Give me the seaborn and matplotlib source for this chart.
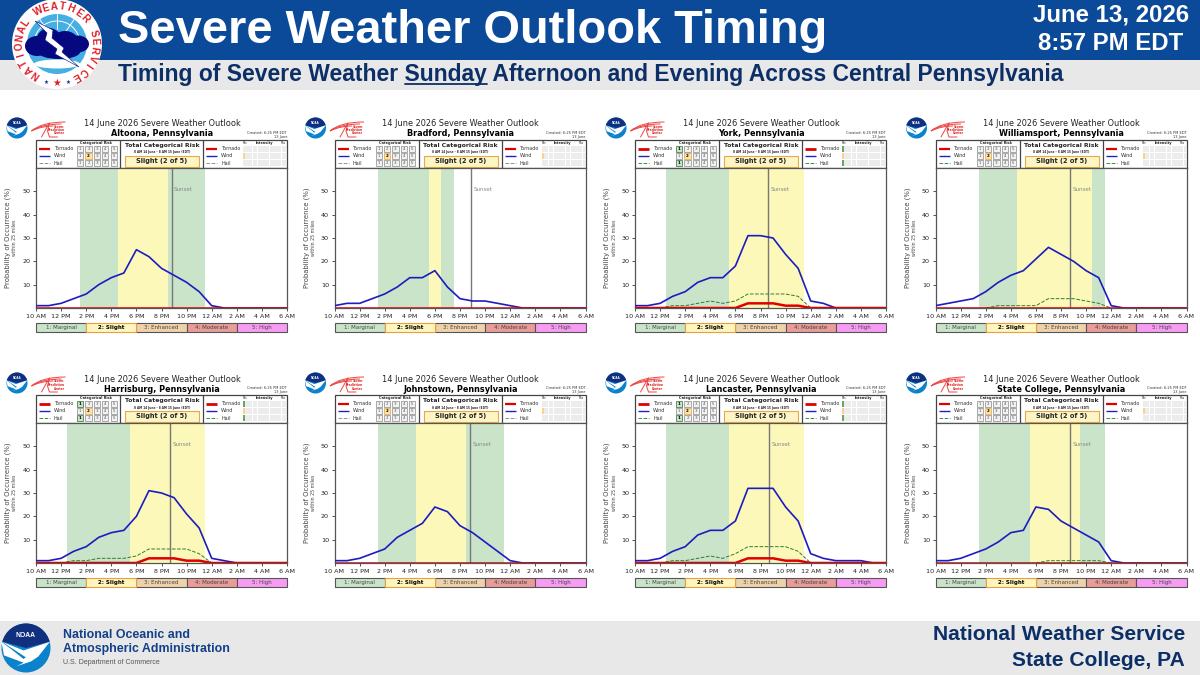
import matplotlib
matplotlib.use("Agg")
import matplotlib.pyplot as plt
import numpy as np
import pandas as pd
import seaborn as sns
from matplotlib.patches import Arc, Circle, Ellipse, PathPatch, Polygon, Rectangle, Wedge
from matplotlib.path import Path

sns.set_style("white")
plt.rcParams["font.family"] = ["DejaVu Sans"]

hours = list(range(21))
tick_labels = ["10 AM", "12 PM", "2 PM", "4 PM", "6 PM", "8 PM", "10 PM", "12 AM", "2 AM", "4 AM", "6 AM"]
risk_labels = ["1: Marginal", "2: Slight", "3: Enhanced", "4: Moderate", "5: High"]
cities = ["Altoona", "Bradford", "York", "Williamsport", "Harrisburg", "Johnstown", "Lancaster", "State College"]

zeros = [0] * 21

wind_altoona = [1, 1, 2, 4, 6, 10, 13, 15, 25, 22, 17, 14, 11, 7, 1, 0, 0, 0, 0, 0, 0]
wind_bradford = [1, 2, 2, 4, 6, 9, 13, 13, 16, 9, 4, 3, 3, 2, 1, 0, 0, 0, 0, 0, 0]
wind_york = [1, 1, 2, 5, 7, 11, 13, 13, 18, 31, 31, 30, 23, 17, 3, 2, 0, 0, 0, 0, 0]
wind_williamsport = [1, 2, 3, 4, 7, 11, 14, 16, 21, 26, 23, 20, 16, 13, 1, 0, 0, 0, 0, 0, 0]
wind_harrisburg = [1, 1, 2, 5, 7, 11, 13, 14, 20, 31, 30, 28, 21, 15, 2, 1, 0, 0, 0, 0, 0]
wind_johnstown = [1, 1, 2, 4, 6, 11, 14, 17, 24, 22, 16, 13, 9, 5, 1, 0, 0, 0, 0, 0, 0]
wind_lancaster = [1, 1, 2, 5, 7, 12, 14, 14, 18, 32, 32, 32, 24, 18, 4, 2, 1, 1, 1, 0, 0]
wind_state_college = [1, 1, 2, 4, 6, 9, 13, 14, 24, 23, 18, 15, 12, 9, 1, 0, 0, 0, 0, 0, 0]

hail_york = [0, 0, 0, 1, 1, 2, 3, 2, 3, 6, 6, 6, 6, 5, 0, 0, 0, 0, 0, 0, 0]
hail_williamsport = [0, 0, 0, 0, 0, 1, 1, 1, 1, 4, 4, 4, 3, 2, 0, 0, 0, 0, 0, 0, 0]
hail_harrisburg = [0, 0, 0, 1, 1, 2, 2, 2, 3, 6, 6, 6, 6, 4, 0, 0, 0, 0, 0, 0, 0]
hail_lancaster = [0, 0, 0, 1, 1, 2, 3, 2, 4, 7, 7, 7, 7, 5, 0, 0, 0, 0, 0, 0, 0]
hail_state_college = [0, 0, 0, 0, 0, 0, 0, 0, 0, 1, 1, 1, 1, 1, 0, 0, 0, 0, 0, 0, 0]

tornado_york = [0, 0, 0, 0, 0, 0, 0, 0, 0, 2, 2, 2, 1, 1, 0, 0, 0, 0, 0, 0, 0]
tornado_harrisburg = [0, 0, 0, 0, 0, 0, 0, 0, 0, 2, 2, 2, 1, 1, 0, 0, 0, 0, 0, 0, 0]
tornado_lancaster = [0, 0, 0, 0, 0, 0, 0, 0, 0, 2, 2, 2, 1, 1, 0, 0, 0, 0, 0, 0, 0]

winds = [wind_altoona, wind_bradford, wind_york, wind_williamsport,
         wind_harrisburg, wind_johnstown, wind_lancaster, wind_state_college]
hails = [zeros, zeros, hail_york, hail_williamsport, hail_harrisburg, zeros, hail_lancaster, hail_state_college]
tornados = [zeros, zeros, tornado_york, zeros, tornado_harrisburg, zeros, tornado_lancaster, zeros]

# risk bands in hours after 10 AM
marginal_bands = [(3.5, 13.5), (3.5, 9.5), (2.5, 7.5), (3.5, 13.5),
                  (2.5, 7.5), (3.5, 13.5), (2.5, 7.5), (3.5, 13.5)]
slight_bands = [(6.5, 10.5), (7.5, 8.5), (7.5, 13.5), (6.5, 12.5),
                (7.5, 13.5), (6.5, 10.5), (7.5, 13.5), (7.5, 11.5)]
sunsets = [10.8, 10.9, 10.6, 10.7, 10.7, 10.8, 10.65, 10.7]

GREEN = "#c9e4c9"
YELLOW = "#fbf8ba"
NAVY = "#0b2f66"
BANNER = "#0b4a99"
band_colors = ["#c9e4c9", "#fdf5bd", "#f0d2aa", "#e99c98", "#f79cf2"]

fig = plt.figure(figsize=(12, 6.75), dpi=100)
page = fig.add_axes([0, 0, 1, 1], zorder=0)
page.set_xlim(0, 1200)
page.set_ylim(675, 0)
page.axis("off")


def rect(x, y, w, h, **kw):
    page.add_patch(Rectangle((x, y), w, h, **kw))


def noaa_logo(cx, cy, r):
    page.add_patch(Circle((cx, cy), r, fc="#0b82cc", ec="none", zorder=3))
    page.add_patch(Wedge((cx, cy), r, 195, 345, fc="#10307f", ec="none", zorder=3))
    swoosh = [(cx - r, cy - 0.25 * r), (cx - 0.6 * r, cy + 0.05 * r), (cx - 0.1 * r, cy + 0.45 * r),
              (cx + 0.4 * r, cy + 0.05 * r), (cx + 0.97 * r, cy - 0.25 * r),
              (cx + 0.5 * r, cy + 0.35 * r), (cx + 0.2 * r, cy + 0.55 * r), (cx - 0.4 * r, cy + 0.75 * r),
              (cx - 0.1 * r, cy + 0.6 * r), (cx - 0.9 * r, cy + 0.3 * r)]
    page.add_patch(Polygon(swoosh, fc="white", ec="none", zorder=4))
    page.add_patch(Polygon([(cx - r * 0.97, cy - 0.25 * r), (cx - 0.1 * r, cy + 0.1 * r), (cx + 0.97 * r, cy - 0.25 * r),
                            (cx + 0.1 * r, cy + 0.45 * r)], fc="white", ec="none", zorder=4))
    page.text(cx, cy - 0.5 * r, "NOAA", color="white", fontsize=r * 0.2, fontweight="bold",
              ha="center", va="center", zorder=5, family="Liberation Sans")


def spc_logo(x, y):
    # red streaks and the three small lines of the Storm Prediction Center mark
    for dy, x2 in [(0, 34), (2, 30), (4, 22)]:
        arc = Path([(x, y + 9), (x + 10, y + dy), (x + x2, y + dy)], [1, 3, 3])
        page.add_patch(PathPatch(arc, fc="none", ec="#ee4444", lw=0.7))
    page.plot([x + 10, x + 15, x + 18, x + 16, x + 18, x + 26],
              [y + 15, y + 6, y + 1, y + 9, y + 15, y + 15], color="#ee4444", lw=0.7)
    for i, word in enumerate(["Storm", "Prediction", "Center"]):
        page.text(x + 33, y + 4.5 + i * 3.5, word, color="#dd2222", fontsize=2.2, fontweight="bold", ha="right", va="center")


def nws_logo(cx, cy):
    page.add_patch(Circle((cx, cy), 45, fc="white", ec="none", zorder=3))
    page.add_patch(Circle((cx, cy), 30, fc="#45aee2", ec="none", zorder=3))
    for angle in [-125, -90, -55]:
        rad = np.radians(angle)
        page.plot([cx + 15 * np.cos(rad), cx + 30 * np.cos(rad)], [cy + 15 * np.sin(rad), cy + 30 * np.sin(rad)],
                  color="white", lw=0.7, zorder=3)
    page.add_patch(Arc((cx, cy), 46, 46, theta1=200, theta2=340, ec="white", lw=0.7, zorder=3))
    for ex, ey, ew, eh in [(-20, 2, 24, 20), (-8, -2, 26, 28), (8, -1, 28, 24), (21, 0, 22, 17), (2, 8, 42, 14)]:
        page.add_patch(Ellipse((cx + ex, cy + ey), ew, eh, fc="#05087f", ec="none", zorder=4))
    page.add_patch(Ellipse((cx, cy + 20), 46, 9, fc="white", ec="none", zorder=4))
    bolt = [(cx - 22, cy - 23), (cx - 4, cy - 14), (cx - 5, cy - 6), (cx + 7, cy + 4), (cx + 5, cy + 8), (cx + 22, cy + 23),
            (cx - 2, cy + 10), (cx, cy + 5), (cx - 12, cy - 4), (cx - 10, cy - 11)]
    page.add_patch(Polygon(bolt, fc="white", ec="#05087f", lw=0.4, zorder=5))
    letters = "NATIONAL WEATHER SERVICE"
    for letter, angle in zip(letters, np.linspace(235, -60, len(letters))):
        rad = np.radians(angle)
        page.text(cx + 37.7 * np.cos(rad), cy - 37.7 * np.sin(rad), letter, color="#e01e26", fontsize=7.2,
                  fontweight="bold", rotation=angle - 90, ha="center", va="center", zorder=6, family="Liberation Sans")
    page.text(cx, cy + 39, "★", color="#e01e26", fontsize=7, ha="center", va="center", zorder=6)
    page.text(cx - 11, cy + 38, "★", color="#10307f", fontsize=4, ha="center", va="center", zorder=6)
    page.text(cx + 11, cy + 38, "★", color="#10307f", fontsize=4, ha="center", va="center", zorder=6)


def header_box(x, y, has_tornado, hail_line):
    rect(x, y, 251, 28, fc="white", ec="#444444", lw=0.9)
    page.plot([x + 84, x + 84], [y, y + 28], color="#444444", lw=0.9)
    page.plot([x + 167, x + 167], [y, y + 28], color="#444444", lw=0.9)
    rows = [("Tornado", "#e00000", 2.0 if has_tornado else 1.6, "-"),
            ("Wind", "#2020c8", 1.0, "-"),
            ("Hail", "#3d8b3d" if hail_line else "#809a80", 0.7, "--")]
    for j, (name, color, lw, ls) in enumerate(rows):
        ry = y + 8.7 + j * 7.2
        for lx in [x + 3, x + 170]:
            page.plot([lx, lx + 11], [ry, ry], color=color, lw=lw, ls=ls, solid_capstyle="butt")
            page.text(lx + 15, ry, name, fontsize=3.5, color="#333333", va="center")
        for k in range(5):
            sx = x + 41 + k * 8.4
            active = (name == "Wind" and k == 1) or (name != "Wind" and has_tornado and k == 0)
            fc = "#fbe3b0" if name == "Wind" and active else ("#c9e4c9" if active else "#f2f2f2")
            ec = "#e6a040" if name == "Wind" and active else ("#2f6b2f" if active else "#888888")
            rect(sx, ry - 3, 6.2, 6.2, fc=fc, ec=ec, lw=0.5)
            page.text(sx + 3.1, ry + 0.1, str(k + 1), fontsize=2.9, ha="center", va="center",
                      color="black" if active else "#555555", fontweight="bold" if active else "normal")
        for k in range(18):
            sx = x + 207 + k * 2.42
            fc = "#ececec"
            if k == 0 and name == "Wind":
                fc = "#fbd090"
            if k == 0 and name != "Wind" and has_tornado:
                fc = "#6aa56a"
            rect(sx, ry - 3, 2.15, 6.2, fc=fc, ec="none")
    page.text(x + 60, y + 2.8, "Categorical Risk", fontsize=2.5, fontweight="bold", ha="center", va="center")
    page.text(x + 228, y + 2.6, "Intensity", fontsize=2.5, fontweight="bold", ha="center", va="center")
    page.text(x + 209, y + 3.3, "Min", fontsize=1.8, ha="center", va="center")
    page.text(x + 247, y + 3.3, "Max", fontsize=1.8, ha="center", va="center")
    page.text(x + 126, y + 5.8, "Total Categorical Risk", fontsize=4.4, fontweight="bold", ha="center", va="center")
    page.text(x + 126, y + 12.5, "8 AM 14 June - 8 AM 15 June (EDT)", fontsize=2.1, fontweight="bold", ha="center", va="center")
    rect(x + 89, y + 16, 74, 10.6, fc="#fdf6c4", ec="#e6a84a", lw=0.8)
    page.text(x + 126, y + 21.3, "Slight (2 of 5)", fontsize=4.75, fontweight="bold", ha="center", va="center")


def risk_strip(x, y):
    for k, label in enumerate(risk_labels):
        ec = "#e6a040" if k == 1 else "#555555"
        rect(x + k * 50.2, y, 50.2, 8.5, fc=band_colors[k], ec=ec, lw=0.8, zorder=2 if k == 1 else 1)
        page.text(x + (k + 0.5) * 50.2, y + 4.2, label, fontsize=4.0, ha="center", va="center", zorder=3,
                  color="black" if k == 1 else "#444444", fontweight="bold" if k == 1 else "normal")


def draw_panel(i, x, top):
    ax = fig.add_axes([x / 1200, 1 - (top + 140) / 675, 251 / 1200, 140 / 675], zorder=2)
    start, end = marginal_bands[i]
    ax.axvspan(start, end, color=GREEN, lw=0)
    start, end = slight_bands[i]
    ax.axvspan(start, end, color=YELLOW, lw=0)
    ax.axvline(sunsets[i], color="#777777", lw=1)
    ax.text(sunsets[i] + 0.2, 50.6, "Sunset", fontsize=4.0, color="#888888", va="center")

    table = pd.DataFrame({"hour": hours, "wind": winds[i], "hail": hails[i], "tornado": tornados[i]})
    if max(hails[i]) > 0:
        shown = table[table["hail"] > 0]
        first = max(shown["hour"].min() - 1, 0)
        last = shown["hour"].max() + 1
        sns.lineplot(data=table[(table["hour"] >= first) & (table["hour"] <= last)], x="hour", y="hail", ax=ax,
                     color="#2f7d2f", lw=0.7, ls="--", zorder=3)
    sns.lineplot(data=table, x="hour", y="wind", ax=ax, color="#1c1cc0", lw=1.2, zorder=4)
    sns.lineplot(data=table, x="hour", y="tornado", ax=ax, color="#e00000", lw=1.8, zorder=5)

    ax.set_xlim(0, 20)
    ax.set_ylim(0, 60)
    ax.set_xticks(hours[::2])
    ax.set_xticklabels(tick_labels)
    ax.set_yticks([10, 20, 30, 40, 50])
    ax.tick_params(axis="both", labelsize=4.6, length=2, width=0.6, pad=2, color="#333333", labelcolor="#222222", bottom=True, left=True)
    ax.set_xlabel("")
    ax.set_ylabel("")
    for spine in ax.spines.values():
        spine.set_color("#555555")
        spine.set_linewidth(0.9)

    page.text(x - 28, top + 70, "Probability of Occurrence (%)", fontsize=4.95, rotation=90, color="#444444", ha="center", va="center")
    page.text(x - 21, top + 70, "within 25 miles", fontsize=3.4, rotation=90, color="#444444", ha="center", va="center")

    page.text(x + 126, top - 44, "14 June 2026 Severe Weather Outlook", fontsize=5.9, color="#222222", ha="center", va="center")
    page.text(x + 126, top - 34, cities[i] + ", Pennsylvania", fontsize=5.9, fontweight="bold", color="black", ha="center", va="center")
    page.text(x + 251, top - 35, "Created: 6:25 PM EDT", fontsize=2.6, color="#333333", ha="right", va="center")
    page.text(x + 251, top - 31, "13 June", fontsize=2.6, color="#333333", ha="right", va="center")
    noaa_logo(x - 19, top - 40, 10.5)
    spc_logo(x - 4.5, top - 46)
    header_box(x, top - 28, max(tornados[i]) > 0, max(hails[i]) > 0)
    risk_strip(x, top + 155)


# banners
rect(0, 0, 1200, 60, fc=BANNER, ec="none")
rect(0, 60, 1200, 30, fc="#e8e8e8", ec="none")
rect(0, 621, 1200, 54, fc="#e8e8e8", ec="none")
page.text(118, 31, "Severe Weather Outlook Timing", color="white", fontsize=33.8, fontweight="bold",
          family="Liberation Sans", ha="left", va="center")
page.text(1111, 15, "June 13, 2026", color="white", fontsize=17.3, fontweight="bold", family="Liberation Sans", ha="center", va="center")
page.text(1111, 43, "8:57 PM EDT", color="white", fontsize=17.3, fontweight="bold", family="Liberation Sans", ha="center", va="center")

subtitle_before = "Timing of Severe Weather "
subtitle_word = "Sunday"
subtitle_after = " Afternoon and Evening Across Central Pennsylvania"
page.text(118, 74, subtitle_before + subtitle_word + subtitle_after, color=NAVY, fontsize=16.47,
          fontweight="bold", family="Liberation Sans", ha="left", va="center")
renderer = fig.canvas.get_renderer()


def text_width(s):
    probe = page.text(0, 0, s.replace(" ", "\u00a0"), fontsize=16.47, fontweight="bold", family="Liberation Sans")
    w = probe.get_window_extent(renderer).width
    probe.remove()
    return w


u0 = 118 + text_width(subtitle_before)
u1 = u0 + text_width(subtitle_word)
page.plot([u0, u1], [84, 84], color=NAVY, lw=1.3)

nws_logo(57, 44)

# footer
noaa_logo(26, 648, 24.5)
page.text(63, 635.5, "National Oceanic and", color="#12408a", fontsize=8.9, fontweight="bold", family="Liberation Sans", va="center")
page.text(63, 649, "Atmospheric Administration", color="#12408a", fontsize=8.9, fontweight="bold", family="Liberation Sans", va="center")
page.text(63, 663, "U.S. Department of Commerce", color="#555555", fontsize=5.0, family="Liberation Sans", va="center")
page.text(1185, 634.5, "National Weather Service", color=NAVY, fontsize=15.1, fontweight="bold", family="Liberation Sans", ha="right", va="center")
page.text(1185, 660, "State College, PA", color=NAVY, fontsize=15.1, fontweight="bold", family="Liberation Sans", ha="right", va="center")

col_x = [36, 334.5, 635, 935.5]
row_top = [168, 423]
for n in range(8):
    draw_panel(n, col_x[n % 4], row_top[n // 4])

fig.savefig("out.png", dpi=100)
